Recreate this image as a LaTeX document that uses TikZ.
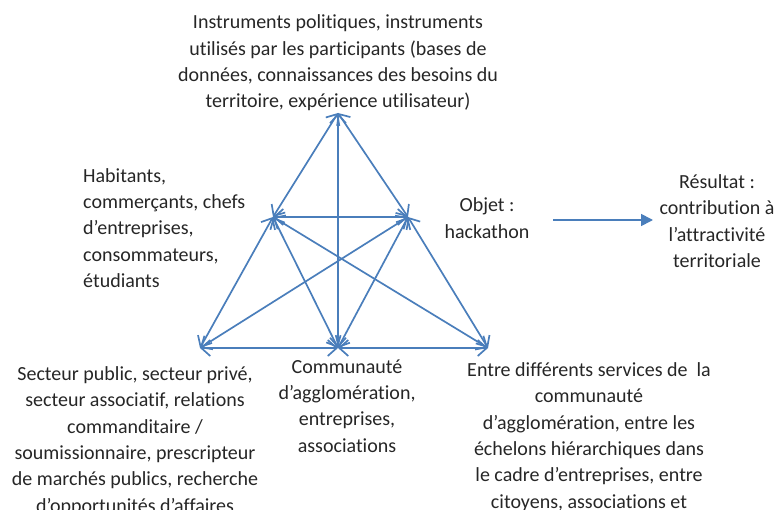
\documentclass[tikz,border=0pt]{standalone}
\usepackage{fontspec}
\setmainfont{Carlito}[Ligatures=NoCommon]
\usetikzlibrary{arrows.meta}
\definecolor{lineblue}{HTML}{4A7EBB}
\definecolor{txt}{HTML}{262626}
\tikzset{
  lbl/.style={inner sep=0pt, text=txt, font=\fontsize{20}{26.3}\selectfont},
  link/.style={draw=lineblue, line width=1.7pt, {Straight Barb[length=9pt,width=16pt]}-{Straight Barb[length=9pt,width=16pt]}},
  flow/.style={draw=lineblue, line width=1.7pt, -{Triangle[length=12pt,width=12pt]}}
}
\begin{document}
\begin{tikzpicture}[x=1pt,y=-1pt]
\useasboundingbox (0,0) rectangle (775,510);
\clip (0,0) rectangle (775,510);
% vertices
\coordinate (T) at (338,113);
\coordinate (UL) at (273,217);
\coordinate (UR) at (408,217);
\coordinate (BL) at (200,348);
\coordinate (BM) at (338,348);
\coordinate (BR) at (488,348);
\coordinate (ha) at (553,220);
\coordinate (hb) at (653,220);
% labels
\node[lbl, align=center] (top) at (338,63) {Instruments politiques, instruments\\utilisés par les participants (bases de\\données, connaissances des besoins du\\territoire, expérience utilisateur)};
\node[lbl, align=left, anchor=west] (hab) at (83,228) {Habitants,\\commerçants, chefs\\d’entreprises,\\consommateurs,\\étudiants};
\node[lbl, align=center] (sect) at (135,441) {Secteur public, secteur privé,\\secteur associatif, relations\\commanditaire /\\soumissionnaire, prescripteur\\de marchés publics, recherche\\d’opportunités d’affaires};
\node[lbl, align=center] (comm) at (347,406) {Communauté\\d’agglomération,\\entreprises,\\associations};
\node[lbl, align=center] (entre) at (589,437) {Entre différents services de~ la\\communauté\\d’agglomération, entre les\\échelons hiérarchiques dans\\le cadre d’entreprises, entre\\citoyens, associations et};
\node[lbl, align=center] (obj) at (487,218) {Objet :\\hackathon};
\node[lbl, align=center] (res) at (717,221) {Résultat :\\contribution à\\l’attractivité\\territoriale};
% links
\draw[link] (UL) -- (T);
\draw[link] (UR) -- (T);
\draw[link] (BM) -- (T);
\draw[link] (UL) -- (UR);
\draw[link] (BL) -- (UL);
\draw[link] (BM) -- (UL);
\draw[link] (BR) -- (UL);
\draw[link] (BL) -- (UR);
\draw[link] (BM) -- (UR);
\draw[link] (BR) -- (UR);
\draw[link] (BL) -- (BM);
\draw[link] (BM) -- (BR);
\draw[flow] (ha) -- (hb);
\end{tikzpicture}
\end{document}
